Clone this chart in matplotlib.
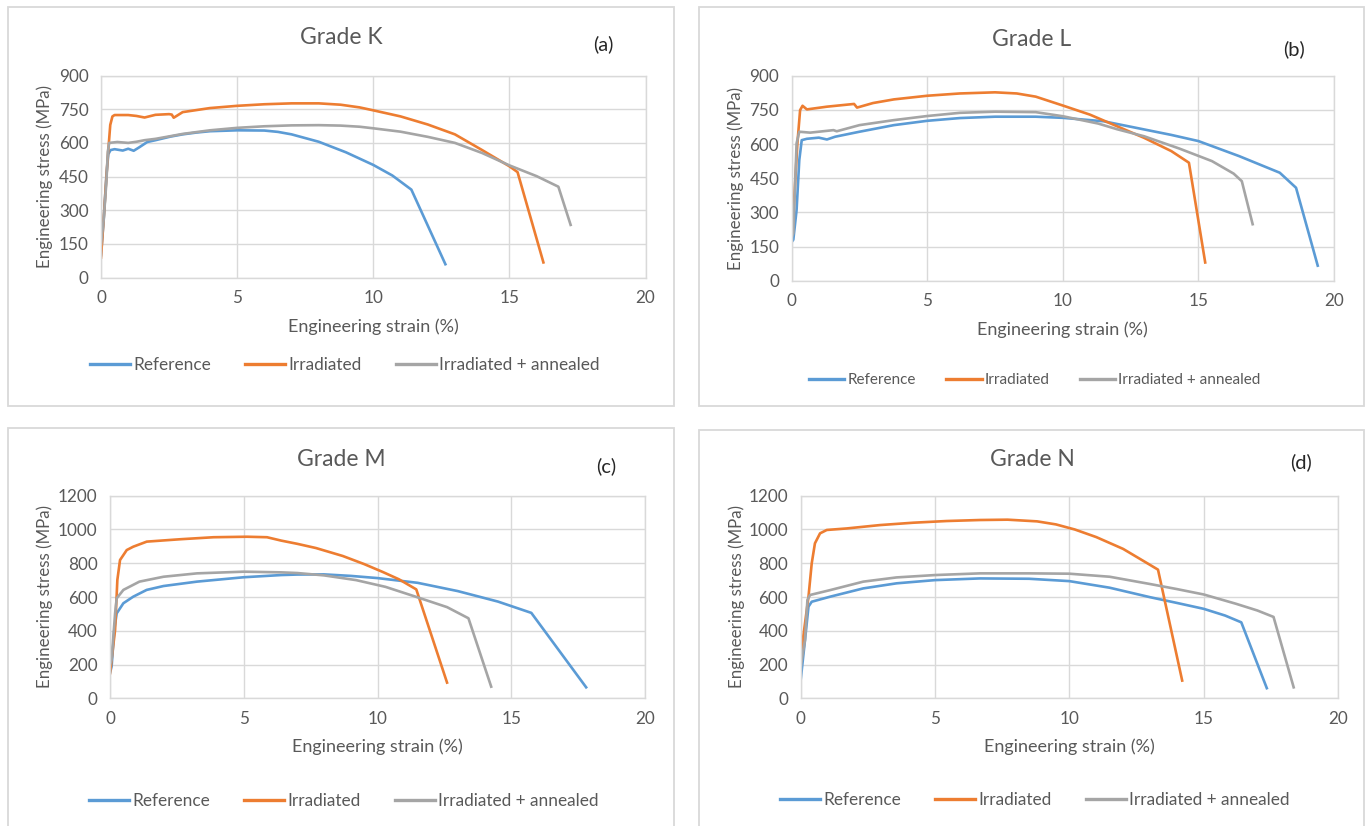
import matplotlib
matplotlib.use("Agg")
import matplotlib.pyplot as plt
from matplotlib.patches import Rectangle

plt.rcParams['font.family'] = ['Lato', 'DejaVu Sans']

W, H = 1370, 826

# ---------------- data ----------------
series_names = ["Reference", "Irradiated", "Irradiated + annealed"]
series_colors = ["#5B9BD5", "#ED7D31", "#A5A5A5"]
x_ticks = [0, 5, 10, 15, 20]
y_ticks_KL = [0, 150, 300, 450, 600, 750, 900]
y_ticks_MN = [0, 200, 400, 600, 800, 1000, 1200]

# Grade K
K_ref_x = [0, 0.1, 0.2, 0.27, 0.35, 0.5, 0.8, 1.0, 1.2, 1.4, 1.7, 2.0, 2.55, 3.0, 3.5, 4.0, 5.0, 6.0, 6.5, 7.0, 8.0, 9.0, 10.0, 10.7, 11.4, 12.65]
K_ref_y = [100, 260, 460, 550, 568, 572, 566, 574, 565, 580, 604, 612, 628, 638, 646, 652, 656, 655, 649, 638, 605, 558, 502, 455, 392, 60]
K_irr_x = [0, 0.12, 0.24, 0.34, 0.42, 0.5, 1.0, 1.3, 1.6, 2.0, 2.5, 2.6, 2.67, 3.0, 4.0, 5.0, 6.0, 7.0, 8.0, 8.8, 9.5, 10.0, 11.0, 11.5, 12.0, 13.0, 14.0, 14.5, 15.0, 15.3, 16.25]
K_irr_y = [90, 302, 524, 680, 718, 724, 724, 720, 713, 725, 728, 726, 712, 737, 755, 765, 772, 776, 776, 770, 758, 745, 718, 700, 682, 638, 568, 532, 496, 470, 68]
K_ann_x = [0, 0.1, 0.2, 0.25, 0.3, 0.6, 1.0, 1.3, 1.6, 2.0, 2.55, 3.0, 4.0, 5.0, 6.0, 7.0, 8.0, 8.8, 9.5, 10.0, 11.0, 12.0, 13.0, 14.0, 15.0, 16.0, 16.8, 17.25]
K_ann_y = [150, 260, 430, 560, 600, 604, 600, 605, 612, 618, 630, 640, 656, 667, 674, 678, 679, 677, 672, 665, 650, 627, 600, 555, 500, 452, 405, 235]

# Grade L
L_ref_x = [0, 0.06, 0.18, 0.28, 0.37, 0.56, 1.0, 1.3, 1.6, 2.5, 3.77, 5.0, 6.2, 7.5, 9.0, 10.0, 11.5, 13.0, 14.0, 15.0, 16.5, 18.0, 18.6, 19.4]
L_ref_y = [170, 180, 310, 530, 617, 623, 628, 620, 632, 654, 683, 702, 714, 720, 720, 715, 700, 664, 640, 613, 547, 474, 408, 66]
L_irr_x = [0, 0.06, 0.21, 0.31, 0.4, 0.56, 1.3, 2.3, 2.41, 3.0, 3.77, 5.0, 6.2, 7.5, 8.3, 9.0, 10.0, 11.0, 12.0, 13.0, 14.0, 14.65, 15.25]
L_irr_y = [280, 296, 603, 749, 768, 752, 764, 776, 760, 780, 796, 812, 822, 827, 822, 808, 769, 729, 678, 627, 569, 518, 80]
L_ann_x = [0, 0.06, 0.18, 0.28, 0.68, 1.54, 1.66, 2.5, 3.77, 5.0, 6.2, 7.5, 9.0, 10.0, 11.3, 12.0, 13.0, 14.3, 15.5, 16.3, 16.6, 17.0]
L_ann_y = [190, 209, 603, 654, 650, 661, 656, 683, 705, 723, 737, 742, 740, 722, 690, 665, 634, 580, 525, 470, 437, 248]

# Grade M
M_ref_x = [0, 0.06, 0.16, 0.25, 0.5, 0.87, 1.37, 2.0, 3.25, 5.0, 6.4, 7.0, 8.0, 9.0, 10.0, 11.5, 13.0, 14.5, 15.75, 17.8]
M_ref_y = [150, 188, 405, 503, 563, 602, 642, 665, 691, 717, 730, 733, 734, 725, 712, 684, 635, 573, 506, 65]
M_irr_x = [0, 0.19, 0.275, 0.375, 0.625, 0.87, 1.375, 2.62, 3.87, 5.12, 5.87, 6.4, 7.0, 7.7, 8.7, 9.5, 10.2, 10.8, 11.45, 12.6]
M_irr_y = [148, 405, 701, 819, 878, 898, 928, 942, 954, 957, 954, 934, 915, 890, 843, 795, 748, 705, 645, 93]
M_ann_x = [0, 0.06, 0.19, 0.25, 0.5, 1.1, 2.0, 3.25, 5.0, 6.4, 7.0, 8.0, 9.2, 10.3, 11.5, 12.6, 13.4, 14.25]
M_ann_y = [200, 227, 503, 592, 642, 691, 720, 740, 750, 746, 742, 728, 700, 660, 598, 540, 474, 69]

# Grade N
N_ref_x = [0, 0.16, 0.29, 0.41, 1.1, 2.33, 3.57, 5.0, 6.67, 8.5, 10.0, 11.5, 13.0, 14.0, 15.0, 15.8, 16.4, 17.35]
N_ref_y = [110, 345, 543, 572, 602, 651, 681, 700, 710, 708, 694, 655, 599, 565, 530, 490, 450, 60]
N_irr_x = [0, 0.16, 0.29, 0.41, 0.53, 0.72, 0.97, 1.71, 2.95, 4.19, 5.43, 6.67, 7.7, 8.8, 9.5, 10.2, 11.0, 12.0, 12.9, 13.3, 14.2]
N_irr_y = [250, 444, 602, 799, 918, 977, 997, 1006, 1026, 1040, 1050, 1056, 1058, 1048, 1030, 1000, 955, 885, 800, 762, 105]
N_ann_x = [0, 0.16, 0.25, 0.35, 1.1, 2.33, 3.57, 5.0, 6.67, 8.5, 10.0, 11.5, 13.0, 14.0, 15.0, 16.2, 17.0, 17.6, 18.35]
N_ann_y = [187, 345, 582, 612, 641, 691, 716, 730, 740, 740, 738, 720, 677, 647, 615, 560, 520, 482, 65]

TEXT = "#595959"
GRID = "#d9d9d9"


def fbox(x0, x1, ytop, ybot):
    return [x0 / W, 1 - ybot / H, (x1 - x0) / W, (ybot - ytop) / H]


fig = plt.figure(figsize=(W / 100, H / 100), dpi=100)
fig.patch.set_facecolor("white")

panels = [
    dict(title="Grade K", tag="(a)", box=(8, 674, 7, 406), plot=(101, 645.5, 75.5, 277.7),
         yt=y_ticks_KL, data=[(K_ref_x, K_ref_y), (K_irr_x, K_irr_y), (K_ann_x, K_ann_y)],
         title_xy=(341, 38), tag_xy=(603, 44), xl_y=327, yl_x=45, leg=(345, 365), legfs=12.4),
    dict(title="Grade L", tag="(b)", box=(699, 1364, 7, 406), plot=(791.7, 1334, 75.7, 280.7),
         yt=y_ticks_KL, data=[(L_ref_x, L_ref_y), (L_irr_x, L_irr_y), (L_ann_x, L_ann_y)],
         title_xy=(1032, 39), tag_xy=(1294, 49), xl_y=330, yl_x=736, leg=(1035, 380), legfs=11.0),
    dict(title="Grade M", tag="(c)", box=(8, 674, 428, 830), plot=(110, 645, 495.7, 698.3),
         yt=y_ticks_MN, data=[(M_ref_x, M_ref_y), (M_irr_x, M_irr_y), (M_ann_x, M_ann_y)],
         title_xy=(341, 459), tag_xy=(606, 466), xl_y=747, yl_x=45, leg=(344, 801), legfs=12.4),
    dict(title="Grade N", tag="(d)", box=(699, 1364, 430, 830), plot=(800.7, 1338, 495.7, 698.3),
         yt=y_ticks_MN, data=[(N_ref_x, N_ref_y), (N_irr_x, N_irr_y), (N_ann_x, N_ann_y)],
         title_xy=(1032, 459), tag_xy=(1301, 462), xl_y=747, yl_x=737, leg=(1035, 800), legfs=12.4),
]

for p in panels:
    bx0, bx1, by0, by1 = p["box"]
    fig.patches.append(Rectangle((bx0 / W, 1 - by1 / H), (bx1 - bx0) / W, (by1 - by0) / H,
                                 transform=fig.transFigure, fill=False, edgecolor=GRID, lw=1.3))
    x0, x1, yt0, yb0 = p["plot"]
    ax = fig.add_axes(fbox(x0, x1, yt0, yb0))
    handles = []
    for (xs, ys), name, col in zip(p["data"], series_names, series_colors):
        h, = ax.plot(xs, ys, color=col, lw=1.9, label=name, solid_joinstyle="round")
        handles.append(h)
    ax.set_xlim(0, 20)
    ax.set_ylim(p["yt"][0], p["yt"][-1])
    ax.set_xticks(x_ticks)
    ax.set_yticks(p["yt"])
    ax.grid(True, color=GRID, lw=1.0)
    ax.set_axisbelow(True)
    for s in ax.spines.values():
        s.set_color(GRID)
        s.set_linewidth(1.0)
    ax.tick_params(length=0, labelsize=12.3, colors=TEXT, pad=9)
    ax.set_xlabel("Engineering strain (%)", fontsize=13, color=TEXT)
    ax.set_ylabel("Engineering stress (MPa)", fontsize=12.2, color=TEXT)
    hpx = yb0 - yt0
    wpx = x1 - x0
    ax.xaxis.set_label_coords(0.5, -(p["xl_y"] - yb0) / hpx)
    ax.xaxis.label.set_va("center")
    ax.yaxis.set_label_coords(-(x0 - p["yl_x"]) / wpx, 0.5)
    ax.yaxis.label.set_va("center")
    fig.text(p["title_xy"][0] / W, 1 - p["title_xy"][1] / H, p["title"], fontsize=16.5,
             color=TEXT, ha="center", va="center")
    fig.text(p["tag_xy"][0] / W, 1 - p["tag_xy"][1] / H, p["tag"], fontsize=14.5,
             color="#262626", ha="center", va="center")
    leg = ax.legend(handles=handles, loc="center", ncol=3, frameon=False,
                    bbox_to_anchor=(p["leg"][0] / W, 1 - p["leg"][1] / H),
                    bbox_transform=fig.transFigure, fontsize=p["legfs"],
                    handlelength=2.3, handletextpad=0.2, columnspacing=2.0)
    for t in leg.get_texts():
        t.set_color(TEXT)
    for lh in leg.legend_handles:
        lh.set_linewidth(2.4)

fig.savefig("out.png", dpi=100, facecolor="white")
